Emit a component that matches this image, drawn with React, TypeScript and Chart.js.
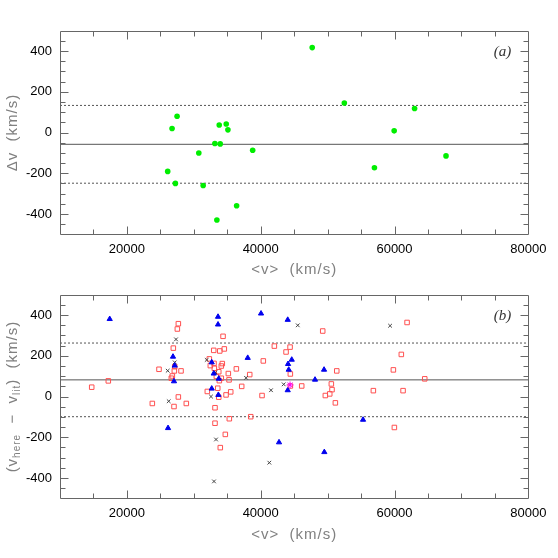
import React, { useEffect, useRef } from 'react';
import { Chart, registerables } from 'chart.js';

Chart.register(...registerables);

// ---------- shared axes ----------
const X_MIN = 10000;
const X_MAX = 80000;
const Y_MIN = -500;
const Y_MAX = 500;
const X_TICKS = [20000, 40000, 60000, 80000];
const Y_TICKS = [-400, -200, 0, 200, 400];
const X_MINOR = 5000;
const Y_MINOR = 50;

// ---------- panel (a) ----------
const A_V = [47700, 52500, 63000, 59950, 57000, 67700, 27500, 26750, 33800, 34850, 35100, 33150, 33950, 30750, 38800, 26100, 27250, 31400, 36400, 33450];
const A_DV = [417, 145, 118, 8, -173, -115, 80, 20, 37, 42, 13, -54, -56, -101, -87, -191, -250, -260, -360, -430];
const A_MEAN = -58;
const A_UPPER = 133;
const A_LOWER = -249;

// ---------- panel (b) ----------
const SQ_V = [14740, 17220, 23800, 24800, 26640, 26790, 27090, 27150, 26940, 27540, 27690, 27690, 27040, 28090, 28880, 32020, 32320, 32980, 33880, 34560, 34370, 32470, 33020, 33070, 34260, 34110, 33730, 33820, 33580, 33730, 34820, 35160, 35270, 35520, 36360, 37160, 38360, 33170, 33170, 35310, 34710, 33960, 38510, 40200, 40390, 42040, 43790, 44390, 44430, 46130, 44430, 49270, 61880, 61020, 59830, 51370, 64520, 50560, 50660, 50320, 49660, 56840, 61280, 51160, 59980, 34110, 33370];
const SQ_D = [46, 77, -34, 134, 90, 101, 126, 147, 238, 332, 358, -2, -49, 126, -34, 25, 185, 227, 224, 234, 296, 152, 163, 139, 162, 150, 122, 78, 41, -3, 8, 113, 82, 23, 136, 50, 108, -55, -131, -109, -186, -251, -99, 5, 175, 248, 219, 243, 111, 52, 52, 322, 364, 207, 131, 126, 87, 62, 34, 13, 5, 29, 29, -31, -152, 90, 99];
const TRI_V = [17430, 33620, 33620, 40050, 44040, 26890, 27150, 27040, 32680, 32980, 33730, 32680, 33670, 38060, 44090, 44640, 44190, 44040, 26150, 42740, 49470, 48120, 55300, 49510];
const TRI_D = [381, 392, 354, 408, 377, 196, 152, 75, 168, 113, 88, 39, 8, 190, 160, 181, 132, 31, -155, -225, 132, 83, -114, -273];
const CR_V = [27340, 27150, 26100, 26250, 31930, 33220, 32570, 37810, 33320, 33020, 45540, 43440, 41540, 41290, 59340];
const CR_D = [281, 168, 127, -23, 180, 119, 0, 92, -211, -417, 350, 60, 31, -325, 348];
const ST_V = [44390];
const ST_D = [57];
const B_MEAN = 82;
const B_UPPER = 263;
const B_LOWER = -99;

// ---------- styling ----------
const FONT = '"Liberation Sans", Arial, Helvetica, sans-serif';
const FRAME = '#666666';
const TITLE_COLOR = '#808080';
const LINE_COLOR = '#555555';

type Seg = { t: string; sub?: boolean };

const pts = (xs: number[], ys: number[]) => xs.map((x, i) => ({ x, y: ys[i] }));
const hline = (y: number) => [{ x: X_MIN, y }, { x: X_MAX, y }];

function drawSegs(ctx: CanvasRenderingContext2D, segs: Seg[], cx: number, cy: number, rotate: boolean) {
  ctx.save();
  ctx.translate(cx, cy);
  if (rotate) ctx.rotate(-Math.PI / 2);
  const main = `15px ${FONT}`;
  const sub = `10px ${FONT}`;
  (ctx as any).letterSpacing = '1px';
  let total = 0;
  const widths = segs.map((s) => {
    ctx.font = s.sub ? sub : main;
    const w = ctx.measureText(s.t).width;
    total += w;
    return w;
  });
  let x = -total / 2;
  ctx.textAlign = 'left';
  ctx.textBaseline = 'middle';
  ctx.fillStyle = TITLE_COLOR;
  segs.forEach((s, i) => {
    ctx.font = s.sub ? sub : main;
    ctx.fillText(s.t, x, s.sub ? 4 : 0);
    x += widths[i];
  });
  ctx.restore();
}

function makeDecor(label: string, yTitle: Seg[], xTitle: Seg[], xTitleY: number, yTitleX: number) {
  return {
    id: 'decor',
    afterDraw(chart: any) {
      const { ctx, chartArea: ca, scales } = chart;
      const xs = scales.x;
      const ys = scales.y;
      ctx.save();
      ctx.strokeStyle = FRAME;
      ctx.lineWidth = 1;
      const L = Math.round(ca.left) + 0.5;
      const R = Math.round(ca.right) + 0.5;
      const T = Math.round(ca.top) + 0.5;
      const B = Math.round(ca.bottom) + 0.5;
      ctx.beginPath();
      ctx.rect(L, T, R - L, B - T);
      for (let v = X_MIN + X_MINOR; v < X_MAX; v += X_MINOR) {
        const p = Math.round(xs.getPixelForValue(v)) + 0.5;
        const len = X_TICKS.includes(v) ? 8 : 5;
        ctx.moveTo(p, B); ctx.lineTo(p, B - len);
        ctx.moveTo(p, T); ctx.lineTo(p, T + len);
      }
      for (let v = Y_MIN + Y_MINOR; v < Y_MAX; v += Y_MINOR) {
        const p = Math.round(ys.getPixelForValue(v)) + 0.5;
        const len = Y_TICKS.includes(v) ? 8 : 5;
        ctx.moveTo(L, p); ctx.lineTo(L + len, p);
        ctx.moveTo(R, p); ctx.lineTo(R - len, p);
      }
      ctx.stroke();

      ctx.fillStyle = '#333333';
      ctx.font = 'italic 15px "Liberation Serif", "DejaVu Serif", serif';
      ctx.textAlign = 'right';
      ctx.textBaseline = 'middle';
      ctx.fillText(label, ca.right - 17, ca.top + 21.5);
      ctx.restore();

      drawSegs(ctx, yTitle, yTitleX, (ca.top + ca.bottom) / 2, true);
      drawSegs(ctx, xTitle, (ca.left + ca.right) / 2, xTitleY, false);
    },
  };
}

function makeOptions(padTop: number, padRight: number, xAxisHeight: number) {
  return {
    responsive: false,
    animation: false as const,
    devicePixelRatio: 1,
    layout: { padding: { top: padTop, right: padRight, left: 0, bottom: 0 } },
    plugins: { legend: { display: false }, tooltip: { enabled: false } },
    scales: {
      x: {
        type: 'linear' as const,
        min: X_MIN,
        max: X_MAX,
        grid: { display: false, drawTicks: false },
        border: { display: false },
        afterBuildTicks: (s: any) => { s.ticks = X_TICKS.map((value) => ({ value })); },
        afterFit: (s: any) => { s.height = xAxisHeight; },
        ticks: {
          color: '#000000',
          font: { family: FONT, size: 13 },
          padding: 7,
          maxRotation: 0,
          autoSkip: false,
          callback: (v: any) => String(v),
        },
      },
      y: {
        type: 'linear' as const,
        min: Y_MIN,
        max: Y_MAX,
        grid: { display: false, drawTicks: false },
        border: { display: false },
        afterBuildTicks: (s: any) => { s.ticks = Y_TICKS.map((value) => ({ value })); },
        afterFit: (s: any) => { s.width = 60; },
        ticks: {
          color: '#000000',
          font: { family: FONT, size: 13 },
          padding: 8,
          autoSkip: false,
          callback: (v: any) => String(v),
        },
      },
    },
  };
}

const lineDs = (y: number, dashed: boolean) => ({
  data: hline(y),
  showLine: true,
  pointRadius: 0,
  borderColor: LINE_COLOR,
  borderWidth: 1,
  borderDash: dashed ? [2, 2] : [],
  fill: false,
});

export default function App() {
  const refA = useRef<HTMLCanvasElement>(null);
  const refB = useRef<HTMLCanvasElement>(null);

  useEffect(() => {
    const chartA = new Chart(refA.current as HTMLCanvasElement, {
      type: 'scatter',
      data: {
        datasets: [
          {
            data: pts(A_V, A_DV),
            pointStyle: 'circle',
            pointRadius: 2.8,
            backgroundColor: '#00ee00',
            borderColor: '#00ee00',
            borderWidth: 0,
          },
          lineDs(A_MEAN, false),
          lineDs(A_UPPER, true),
          lineDs(A_LOWER, true),
        ] as any,
      },
      options: makeOptions(30.7, 29.7, 44.7) as any,
      plugins: [
        makeDecor('(a)', [{ t: 'Δv  (km/s)' }], [{ t: '<v>  (km/s)' }], 270, 13),
      ],
    });

    const chartB = new Chart(refB.current as HTMLCanvasElement, {
      type: 'scatter',
      data: {
        datasets: [
          {
            data: pts(ST_V, ST_D),
            pointStyle: 'star',
            pointRadius: 3.5,
            borderColor: '#ff00ff',
            backgroundColor: '#ff00ff',
            borderWidth: 1,
          },
          {
            data: pts(TRI_V, TRI_D),
            pointStyle: 'triangle',
            pointRadius: 3,
            backgroundColor: '#0000ee',
            borderColor: '#0000ee',
            borderWidth: 1,
          },
          {
            data: pts(CR_V, CR_D),
            pointStyle: 'crossRot',
            pointRadius: 2.6,
            borderColor: '#444444',
            backgroundColor: '#444444',
            borderWidth: 1,
          },
          {
            data: pts(SQ_V, SQ_D),
            pointStyle: 'rect',
            pointRadius: 3.2,
            borderColor: '#ff5050',
            backgroundColor: 'rgba(0,0,0,0)',
            borderWidth: 1,
          },
          lineDs(B_MEAN, false),
          lineDs(B_UPPER, true),
          lineDs(B_LOWER, true),
        ] as any,
      },
      options: makeOptions(15, 29.7, 59.7) as any,
      plugins: [
        makeDecor(
          '(b)',
          [{ t: '(v' }, { t: 'here', sub: true }, { t: '  −  v' }, { t: 'lit', sub: true }, { t: ')  (km/s)' }],
          [{ t: '<v>  (km/s)' }],
          256,
          13,
        ),
      ],
    });

    return () => {
      chartA.destroy();
      chartB.destroy();
    };
  }, []);

  return (
    <div style={{ position: 'absolute', left: 0, top: 0, width: 558, height: 558, background: '#ffffff' }}>
      <canvas ref={refA} width={558} height={279} style={{ display: 'block', width: 558, height: 279 }} />
      <canvas ref={refB} width={558} height={279} style={{ display: 'block', width: 558, height: 279 }} />
    </div>
  );
}
